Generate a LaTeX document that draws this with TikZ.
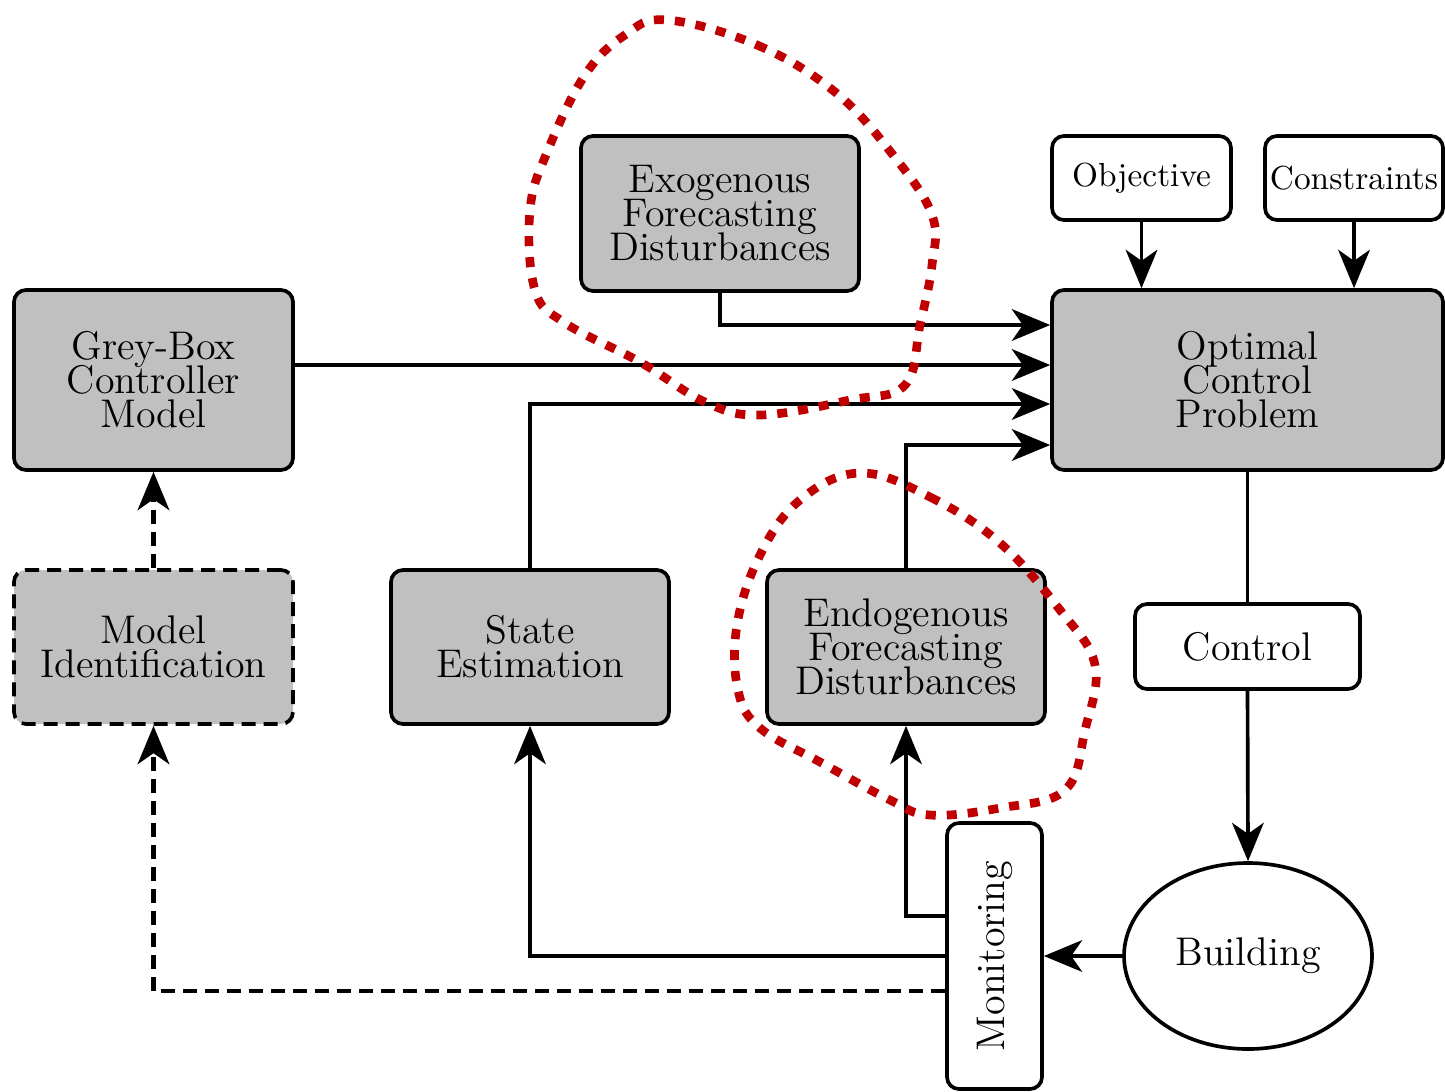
\documentclass[tikz,border=0pt]{standalone}
\usetikzlibrary{arrows.meta,shapes.geometric}
\definecolor{boxgray}{RGB}{192,192,192}
\definecolor{blobred}{RGB}{192,0,0}
\begin{document}
\begin{tikzpicture}[x=0.3pt,y=-0.3pt,
 base/.style={draw, line width=1.1pt, rounded corners=3.6pt, align=center, inner sep=1pt, font={\fontsize{12}{10.2}\selectfont\lineskiplimit=-20pt\lineskip=0pt}},
 gbox/.style={base, fill=boxgray},
 wbox/.style={base, fill=white},
 arr/.style={line width=1.1pt, -{Stealth[length=11.5pt,width=9.5pt,inset=3.3pt]}},
 conn/.style={line width=1.1pt},
 dsh/.style={dash pattern=on 4.2pt off 2.4pt},
 blob/.style={draw=blobred, line width=2.6pt, dash pattern=on 3pt off 3.3pt}
]
\useasboundingbox (0,0) rectangle (1445,1091);

\node[gbox, minimum width=83.4pt, minimum height=46.5pt] (exo) at (720,213.5) {Exogenous\\Forecasting\\Disturbances};
\node[wbox, minimum width=53.7pt, minimum height=25.2pt, font=\normalsize] (obj) at (1141.5,178) {Objective};
\node[wbox, minimum width=53.4pt, minimum height=25.2pt, font=\normalsize] (con) at (1354,178) {Constraints};
\node[gbox, minimum width=83.7pt, minimum height=54pt] (gbm) at (153.5,380) {Grey-Box\\Controller\\Model};
\node[gbox, minimum width=117.3pt, minimum height=54pt] (ocp) at (1247.5,380) {Optimal\\Control\\Problem};
\node[gbox, dsh, minimum width=83.7pt, minimum height=46.2pt] (mid) at (153.5,647) {Model\\Identification};
\node[gbox, minimum width=83.4pt, minimum height=46.2pt] (ste) at (530,647) {State\\Estimation};
\node[gbox, minimum width=83.4pt, minimum height=46.2pt] (endo) at (906,647) {Endogenous\\Forecasting\\Disturbances};
\node[wbox, minimum width=67.5pt, minimum height=25.5pt] (ctl) at (1247.5,646.5) {Control};
\node[draw, line width=1.1pt, ellipse, inner sep=0pt, minimum width=74.4pt, minimum height=55.8pt, font=\large] (bld) at (1248,956) {Building};
\node[wbox, minimum width=28.5pt, minimum height=79.8pt, font=\large] (mon) at (994.5,956) {\rotatebox{90}{Monitoring}};

% connectors
\draw[arr] (exo.south) |- ([shift={(0,-55)}]ocp.west);
\draw[arr] ([shift={(0,-15)}]gbm.east) -- ([shift={(0,-15)}]ocp.west);
\draw[arr] (ste.north) |- ([shift={(0,24)}]ocp.west);
\draw[arr] (endo.north) |- ([shift={(0,65)}]ocp.west);
\draw[arr] (obj.south) -- (obj.south |- ocp.north);
\draw[arr] (con.south) -- (con.south |- ocp.north);
\draw[conn] (ocp.south) -- (ctl.north);
\draw[arr] (ctl.south) -- (bld.north);
\draw[arr] (bld.west) -- (mon.east);
\draw[arr] ([shift={(0,-40)}]mon.west) -| (endo.south);
\draw[arr] (mon.west) -| (ste.south);
\draw[arr, dsh, line width=1.3pt] ([shift={(0,35)}]mon.west) -| (mid.south);
\draw[arr, dsh, line width=1.3pt] (mid.north) -- (gbm.south);

% highlight blobs
\draw[blob] plot[smooth cycle, tension=0.65] coordinates {(667,20) (757,45) (835,92) (893,155) (932,215) (932,265) (920,325) (905,385) (850,400) (760,415) (705,402) (640,362) (565,323) (535,290) (530,210) (548,150) (585,75) (625,35)};
\draw[blob] plot[smooth cycle, tension=0.65] coordinates {(860,473) (930,497) (1000,543) (1060,610) (1095,665) (1085,730) (1065,790) (1000,808) (930,815) (890,800) (820,762) (760,728) (738,690) (737,625) (760,555) (800,500)};
\end{tikzpicture}
\end{document}
